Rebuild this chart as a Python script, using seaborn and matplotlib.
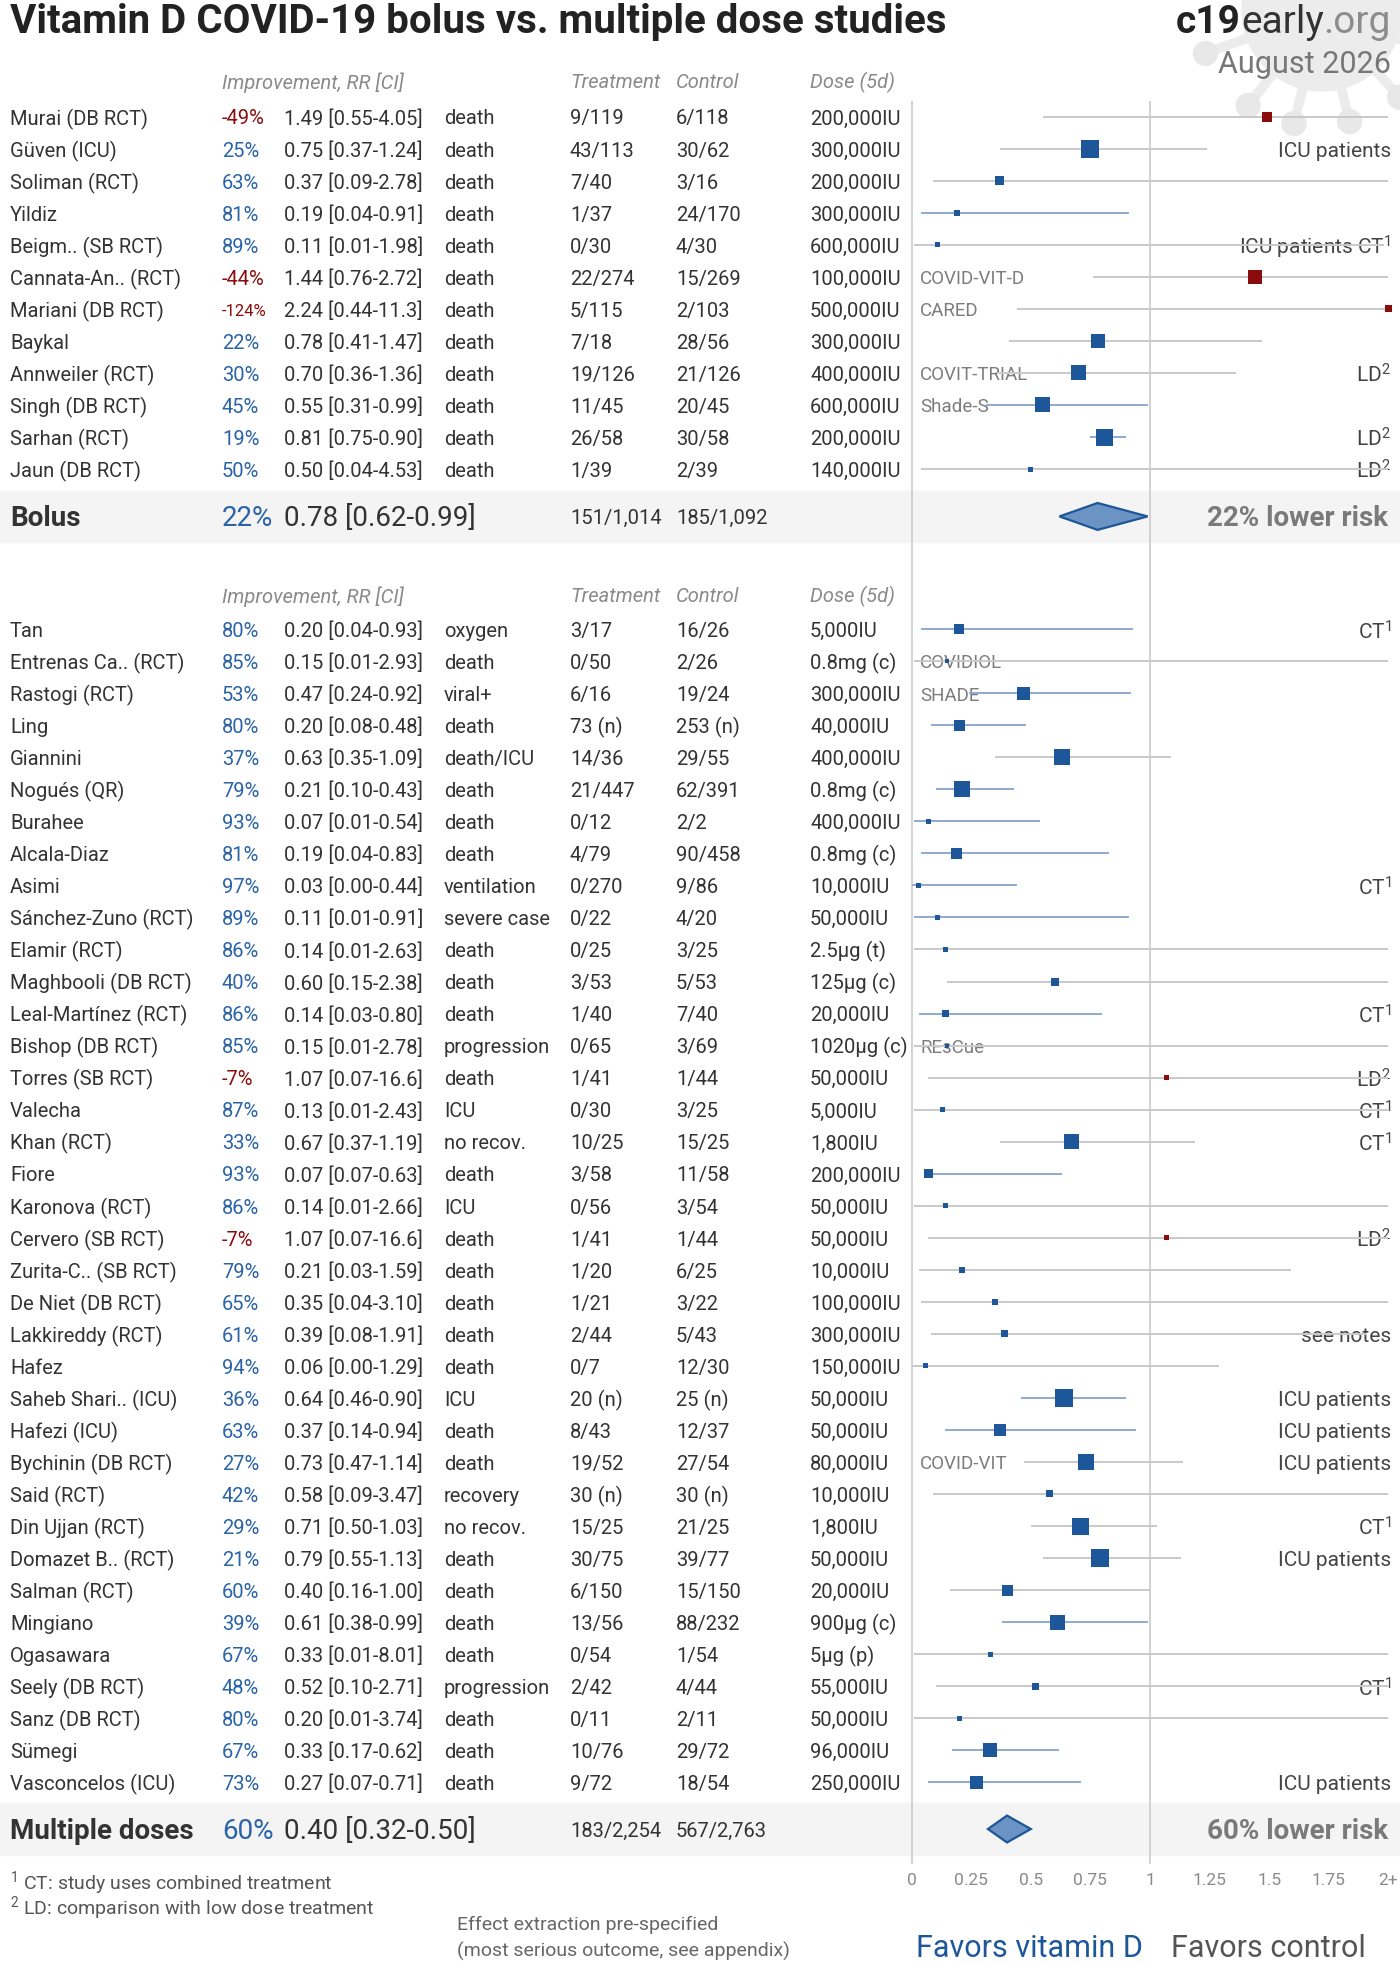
import numpy as np
import pandas as pd
import matplotlib
matplotlib.use("Agg")
import matplotlib.pyplot as plt
import matplotlib.transforms as mtransforms
from matplotlib.patches import Polygon, Rectangle, Circle
import seaborn as sns

# ------------------------------------------------------------------ data
bolus_study = ["Murai (DB RCT)", "Güven (ICU)", "Soliman (RCT)", "Yildiz", "Beigm.. (SB RCT)",
               "Cannata-An.. (RCT)", "Mariani (DB RCT)", "Baykal", "Annweiler (RCT)",
               "Singh (DB RCT)", "Sarhan (RCT)", "Jaun (DB RCT)"]
bolus_rr = [1.49, 0.75, 0.37, 0.19, 0.11, 1.44, 2.24, 0.78, 0.70, 0.55, 0.81, 0.50]
bolus_lo = [0.55, 0.37, 0.09, 0.04, 0.01, 0.76, 0.44, 0.41, 0.36, 0.31, 0.75, 0.04]
bolus_hi = [4.05, 1.24, 2.78, 0.91, 1.98, 2.72, 11.3, 1.47, 1.36, 0.99, 0.90, 4.53]
bolus_outcome = ["death"] * 12
bolus_treat = ["9/119", "43/113", "7/40", "1/37", "0/30", "22/274", "5/115", "7/18",
               "19/126", "11/45", "26/58", "1/39"]
bolus_ctrl = ["6/118", "30/62", "3/16", "24/170", "4/30", "15/269", "2/103", "28/56",
              "21/126", "20/45", "30/58", "2/39"]
bolus_dose = ["200,000IU", "300,000IU", "200,000IU", "300,000IU", "600,000IU", "100,000IU",
              "500,000IU", "300,000IU", "400,000IU", "600,000IU", "200,000IU", "140,000IU"]
bolus_trial = ["", "", "", "", "", "COVID-VIT-D", "CARED", "", "COVIT-TRIAL", "Shade-S", "", ""]
bolus_note = ["", "ICU patients", "", "", "ICU patients CT$^1$", "", "", "", "LD$^2$", "",
              "LD$^2$", "LD$^2$"]
bolus_weight = [10, 18, 9, 6, 5, 14, 7, 14, 15, 15, 17, 5]

multi_study = ["Tan", "Entrenas Ca.. (RCT)", "Rastogi (RCT)", "Ling", "Giannini", "Nogués (QR)",
               "Burahee", "Alcala-Diaz", "Asimi", "Sánchez-Zuno (RCT)", "Elamir (RCT)",
               "Maghbooli (DB RCT)", "Leal-Martínez (RCT)", "Bishop (DB RCT)", "Torres (SB RCT)",
               "Valecha", "Khan (RCT)", "Fiore", "Karonova (RCT)", "Cervero (SB RCT)",
               "Zurita-C.. (SB RCT)", "De Niet (DB RCT)", "Lakkireddy (RCT)", "Hafez",
               "Saheb Shari.. (ICU)", "Hafezi (ICU)", "Bychinin (DB RCT)", "Said (RCT)",
               "Din Ujjan (RCT)", "Domazet B.. (RCT)", "Salman (RCT)", "Mingiano", "Ogasawara",
               "Seely (DB RCT)", "Sanz (DB RCT)", "Sümegi", "Vasconcelos (ICU)"]
multi_rr = [0.20, 0.15, 0.47, 0.20, 0.63, 0.21, 0.07, 0.19, 0.03, 0.11, 0.14, 0.60, 0.14,
            0.15, 1.07, 0.13, 0.67, 0.07, 0.14, 1.07, 0.21, 0.35, 0.39, 0.06, 0.64, 0.37,
            0.73, 0.58, 0.71, 0.79, 0.40, 0.61, 0.33, 0.52, 0.20, 0.33, 0.27]
multi_lo = [0.04, 0.01, 0.24, 0.08, 0.35, 0.10, 0.01, 0.04, 0.00, 0.01, 0.01, 0.15, 0.03,
            0.01, 0.07, 0.01, 0.37, 0.07, 0.01, 0.07, 0.03, 0.04, 0.08, 0.00, 0.46, 0.14,
            0.47, 0.09, 0.50, 0.55, 0.16, 0.38, 0.01, 0.10, 0.01, 0.17, 0.07]
multi_hi = [0.93, 2.93, 0.92, 0.48, 1.09, 0.43, 0.54, 0.83, 0.44, 0.91, 2.63, 2.38, 0.80,
            2.78, 16.6, 2.43, 1.19, 0.63, 2.66, 16.6, 1.59, 3.10, 1.91, 1.29, 0.90, 0.94,
            1.14, 3.47, 1.03, 1.13, 1.00, 0.99, 8.01, 2.71, 3.74, 0.62, 0.71]
multi_outcome = ["oxygen", "death", "viral+", "death", "death/ICU", "death", "death", "death",
                 "ventilation", "severe case", "death", "death", "death", "progression", "death",
                 "ICU", "no recov.", "death", "ICU", "death", "death", "death", "death", "death",
                 "ICU", "death", "death", "recovery", "no recov.", "death", "death", "death",
                 "death", "progression", "death", "death", "death"]
multi_treat = ["3/17", "0/50", "6/16", "73 (n)", "14/36", "21/447", "0/12", "4/79", "0/270",
               "0/22", "0/25", "3/53", "1/40", "0/65", "1/41", "0/30", "10/25", "3/58", "0/56",
               "1/41", "1/20", "1/21", "2/44", "0/7", "20 (n)", "8/43", "19/52", "30 (n)",
               "15/25", "30/75", "6/150", "13/56", "0/54", "2/42", "0/11", "10/76", "9/72"]
multi_ctrl = ["16/26", "2/26", "19/24", "253 (n)", "29/55", "62/391", "2/2", "90/458", "9/86",
              "4/20", "3/25", "5/53", "7/40", "3/69", "1/44", "3/25", "15/25", "11/58", "3/54",
              "1/44", "6/25", "3/22", "5/43", "12/30", "25 (n)", "12/37", "27/54", "30 (n)",
              "21/25", "39/77", "15/150", "88/232", "1/54", "4/44", "2/11", "29/72", "18/54"]
multi_dose = ["5,000IU", "0.8mg (c)", "300,000IU", "40,000IU", "400,000IU", "0.8mg (c)",
              "400,000IU", "0.8mg (c)", "10,000IU", "50,000IU", "2.5µg (t)", "125µg (c)",
              "20,000IU", "1020µg (c)", "50,000IU", "5,000IU", "1,800IU", "200,000IU",
              "50,000IU", "50,000IU", "10,000IU", "100,000IU", "300,000IU", "150,000IU",
              "50,000IU", "50,000IU", "80,000IU", "10,000IU", "1,800IU", "50,000IU", "20,000IU",
              "900µg (c)", "5µg (p)", "55,000IU", "50,000IU", "96,000IU", "250,000IU"]
multi_trial = ["", "COVIDIOL", "SHADE", "", "", "", "", "", "", "", "", "", "", "REsCue", "",
               "", "", "", "", "", "", "", "", "", "", "", "COVID-VIT", "", "", "", "", "", "",
               "", "", "", ""]
multi_note = ["CT$^1$", "", "", "", "", "", "", "", "CT$^1$", "", "", "", "CT$^1$", "",
              "LD$^2$", "CT$^1$", "CT$^1$", "", "", "LD$^2$", "", "", "see notes", "",
              "ICU patients", "ICU patients", "ICU patients", "", "CT$^1$", "ICU patients",
              "", "", "", "CT$^1$", "", "", "ICU patients"]
multi_weight = [10, 4, 13, 11, 16, 16, 5, 11, 5, 5, 5, 8, 7, 4, 5, 5, 15, 9, 5, 5,
                6, 6, 7, 5, 18, 12, 16, 7, 17, 18, 11, 15, 5, 7, 5, 14, 13]

group_names = ["Bolus", "Multiple doses"]
pooled_rr = [0.78, 0.40]
pooled_lo = [0.62, 0.32]
pooled_hi = [0.99, 0.50]
pooled_treat = ["151/1,014", "183/2,254"]
pooled_ctrl = ["185/1,092", "567/2,763"]

tick_vals = [0, 0.25, 0.5, 0.75, 1, 1.25, 1.5, 1.75, 2]
tick_text = ["0", "0.25", "0.5", "0.75", "1", "1.25", "1.5", "1.75", "2+"]

# ------------------------------------------------------------------ style
BLUE = "#1d5699"
RED = "#8b0c0c"
PCT_BLUE = "#2a63a8"
TXT = "#333333"
LINE_BLUE = "#8eaad0"
LINE_GRAY = "#c9c9c9"

sns.set_theme(style="white")
plt.rcParams["font.family"] = ["Roboto", "DejaVu Sans"]
plt.rcParams["mathtext.fontset"] = "custom"
plt.rcParams["mathtext.rm"] = "Roboto"
plt.rcParams["mathtext.it"] = "Roboto:italic"
plt.rcParams["mathtext.bf"] = "Roboto:bold"
plt.rcParams["mathtext.default"] = "regular"

W, H = 1400, 1965
ROW0, PITCH = 117.7, 32.03          # pixel y of first study row, row pitch
AX_TOP, AX_BOT = 102, 1865
X0, UNIT = 911.7, 238.3             # pixel x of RR=0, pixels per RR unit

fig = plt.figure(figsize=(W / 100, H / 100), dpi=100)
fig.patch.set_facecolor("white")
ax = fig.add_axes([0, 1 - AX_BOT / H, 1, (AX_BOT - AX_TOP) / H])
ax.patch.set_alpha(0)

nb, nm = len(bolus_study), len(multi_study)
bolus_y = np.arange(nb)
multi_y = nb + 4 + np.arange(nm)
sum_y = [bolus_y[-1] + 1.48, multi_y[-1] + 1.46]
hdr_y = [bolus_y[0] - 1.13, multi_y[0] - 1.08]

blend = mtransforms.blended_transform_factory(fig.transFigure, ax.transData)
px = mtransforms.Affine2D().scale(1 / W, -1 / H).translate(0, 1) + fig.transFigure


def cell(xp, y, s, **kw):
    kw.setdefault("fontsize", 14.5)
    kw.setdefault("color", TXT)
    kw.setdefault("va", "center")
    ax.text(xp / W, y + 0.04, s, transform=blend, clip_on=False, **kw)


def fmt(v):
    return f"{v:.1f}" if v >= 10 else f"{v:.2f}"


# virus watermark (decoration)
vc, vr = (1322, 12), 80
ax.add_patch(Circle(vc, vr, transform=px, color="#ececec", zorder=0.5, clip_on=False))
for ang, ln in [(160, 44), (128, 40), (104, 36), (76, 34), (48, 36), (20, 38)]:
    a = np.deg2rad(ang)
    p1 = (vc[0] + vr * np.cos(a), vc[1] + vr * np.sin(a))
    p2 = (vc[0] + (vr + ln) * np.cos(a), vc[1] + (vr + ln) * np.sin(a))
    ax.plot([p1[0], p2[0]], [p1[1], p2[1]], transform=px, color="#ececec", lw=7,
            zorder=0.5, clip_on=False, solid_capstyle="round")
    ax.add_patch(Circle(p2, 12, transform=px, color="#e8e8e8", zorder=0.5, clip_on=False))

# header rows
for y in hdr_y:
    for xp, s in [(222, "Improvement, RR [CI]"), (570, "Treatment"), (676, "Control"),
                  (810, "Dose (5d)")]:
        cell(xp, y, s, color="#8a8a8a", style="italic")

# study rows
groups = [
    (bolus_y, bolus_study, bolus_rr, bolus_lo, bolus_hi, bolus_outcome, bolus_treat,
     bolus_ctrl, bolus_dose, bolus_trial, bolus_note),
    (multi_y, multi_study, multi_rr, multi_lo, multi_hi, multi_outcome, multi_treat,
     multi_ctrl, multi_dose, multi_trial, multi_note),
]
for ys, study, rr, lo, hi, outc, tr, ct, dose, trial, note in groups:
    for i, y in enumerate(ys):
        pct = f"{round((1 - rr[i]) * 100)}%"
        cell(10, y, study[i])
        cell(222, y, pct, color=RED if rr[i] > 1 else PCT_BLUE,
             fontsize=14.5 if len(pct) <= 4 else 12)
        cell(284, y, f"{rr[i]:.2f} [{fmt(lo[i])}-{fmt(hi[i])}]")
        cell(444, y, outc[i])
        cell(570, y, tr[i])
        cell(676, y, ct[i])
        cell(810, y, dose[i])
        if trial[i]:
            cell(920, y, trial[i], color="#7c7c7c", fontsize=13.5, zorder=1)
        if note[i]:
            cell(1391, y, note[i], color="#444444", fontsize=15, ha="right", zorder=1)
        ax.hlines(y, np.clip(lo[i], 0, 2), np.clip(hi[i], 0, 2),
                  colors=LINE_BLUE if hi[i] < 1 else LINE_GRAY, lw=1.4, zorder=2)

# markers through seaborn
rr_all = bolus_rr + multi_rr
df = pd.DataFrame({
    "rr": np.clip(rr_all, 0, 2),
    "y": np.concatenate([bolus_y, multi_y]),
    "area": (np.array(bolus_weight + multi_weight) * 0.72) ** 2,
    "effect": ["harm" if r > 1 else "benefit" for r in rr_all],
})
amin, amax = df["area"].min(), df["area"].max()
sns.scatterplot(data=df, x="rr", y="y", hue="effect", palette={"benefit": BLUE, "harm": RED},
                size="area", sizes=(amin, amax), size_norm=(amin, amax), marker="s",
                linewidth=0, legend=False, ax=ax, zorder=4)

# pooled rows
for k, y in enumerate(sum_y):
    ax.add_patch(Rectangle((0, y - 0.8), 1, 1.6, transform=blend, color="#f4f4f4",
                           zorder=0, clip_on=False))
    imp = round((1 - pooled_rr[k]) * 100)
    cell(10, y, group_names[k], fontsize=20, fontweight="bold")
    cell(222, y, f"{imp}%", fontsize=20, color=PCT_BLUE)
    cell(284, y, f"{pooled_rr[k]:.2f} [{pooled_lo[k]:.2f}-{pooled_hi[k]:.2f}]", fontsize=20)
    cell(570, y, pooled_treat[k])
    cell(676, y, pooled_ctrl[k])
    cell(1388, y, f"{imp}% lower risk", fontsize=20, fontweight="bold", color="#7a7a7a",
         ha="right")
    h = 0.42
    ax.add_patch(Polygon([(pooled_lo[k], y), (pooled_rr[k], y - h), (pooled_hi[k], y),
                          (pooled_rr[k], y + h)], closed=True, facecolor="#6b93c3",
                         edgecolor=BLUE, lw=1.6, zorder=4))

ax.axvline(0, color="#d2d2d2", lw=1.4, zorder=1)
ax.axvline(1, color="#d2d2d2", lw=1.4, zorder=1)

ax.set_xlim(-X0 / UNIT, (W - X0) / UNIT)
ax.set_ylim((AX_BOT - ROW0) / PITCH, (AX_TOP - ROW0) / PITCH)
ax.set_xticks(tick_vals)
ax.set_xticklabels(tick_text)
ax.set_yticks([])
ax.tick_params(axis="x", length=0, pad=6, labelsize=12.5, labelcolor="#8a8a8a")
ax.set_xlabel("")
ax.set_ylabel("")
sns.despine(ax=ax, left=True, bottom=True)

# title and branding
fig.text(10 / W, 1 - 33 / H, "Vitamin D COVID-19 bolus vs. multiple dose studies",
         fontsize=29, fontweight="bold", color="#222222", va="baseline")
renderer = fig.canvas.get_renderer()
xr = 1391
for s, wt, col in [(".org", "normal", "#8c8c8c"), ("early", "normal", "#333333"),
                   ("c19", "bold", "#222222")]:
    t = fig.text(xr / W, 1 - 33 / H, s, fontsize=28, fontweight=wt, color=col,
                 ha="right", va="baseline")
    xr -= t.get_window_extent(renderer=renderer).width
fig.text(1391 / W, 1 - 73 / H, "August 2026", fontsize=22, color="#777777",
         ha="right", va="baseline")

# footer
fig.text(10 / W, 1 - 1883 / H, "$^1$ CT: study uses combined treatment", fontsize=14,
         color="#555555", va="center")
fig.text(10 / W, 1 - 1908 / H, "$^2$ LD: comparison with low dose treatment", fontsize=14,
         color="#555555", va="center")
fig.text(457 / W, 1 - 1925 / H, "Effect extraction pre-specified", fontsize=14,
         color="#666666", va="center")
fig.text(457 / W, 1 - 1951 / H, "(most serious outcome, see appendix)", fontsize=14,
         color="#666666", va="center")
fig.text(1143 / W, 1 - 1949 / H, "Favors vitamin D", fontsize=22, color=BLUE,
         ha="right", va="center")
fig.text(1171 / W, 1 - 1949 / H, "Favors control", fontsize=22, color="#555555",
         ha="left", va="center")

fig.savefig("out.png", dpi=100, facecolor="white")
